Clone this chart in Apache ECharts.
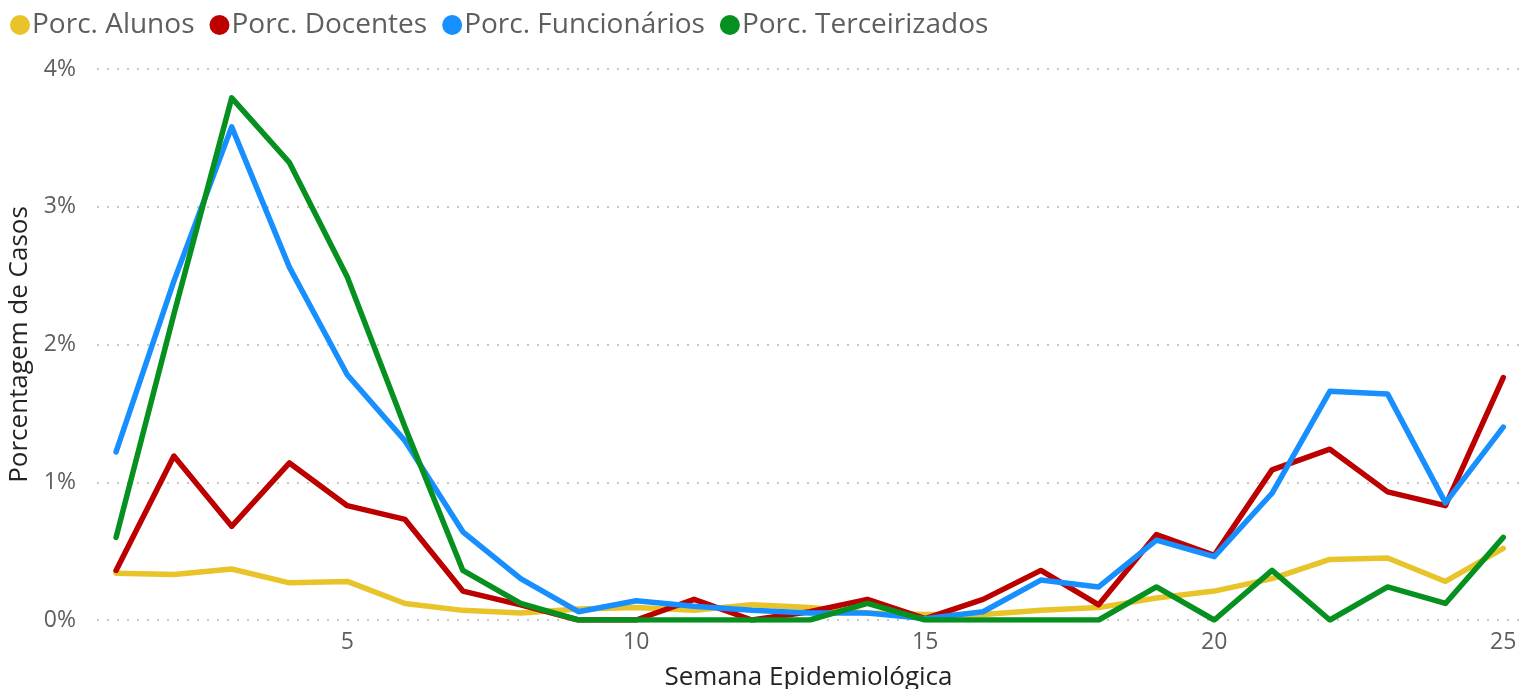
<!DOCTYPE html>
<html>
<head>
<meta charset="utf-8">
<script src="https://cdn.jsdelivr.net/npm/echarts@6/dist/echarts.min.js"></script>
<style>
  html, body { margin: 0; padding: 0; background: #fff; }
  #main { width: 1536px; height: 689px; }
</style>
</head>
<body>
<div id="main"></div>
<script>
// semanas epidemiologicas
const semanas = [1, 2, 3, 4, 5, 6, 7, 8, 9, 10, 11, 12, 13, 14, 15, 16, 17, 18, 19, 20, 21, 22, 23, 24, 25];
const seriesNames = ['Porc. Alunos', 'Porc. Docentes', 'Porc. Funcionários', 'Porc. Terceirizados'];
const xTicks = [5, 10, 15, 20, 25];

// valores em %
const alunos = [0.34, 0.33, 0.37, 0.27, 0.28, 0.12, 0.07, 0.05, 0.08, 0.09, 0.07, 0.11, 0.09, 0.05, 0.04, 0.04, 0.07, 0.09, 0.16, 0.21, 0.30, 0.44, 0.45, 0.28, 0.52];
const docentes = [0.36, 1.19, 0.68, 1.14, 0.83, 0.73, 0.21, 0.11, 0.0, 0.0, 0.15, 0.0, 0.06, 0.15, 0.01, 0.15, 0.36, 0.11, 0.62, 0.47, 1.09, 1.24, 0.93, 0.83, 1.76];
const funcionarios = [1.22, 2.46, 3.58, 2.56, 1.78, 1.30, 0.64, 0.30, 0.06, 0.14, 0.10, 0.07, 0.05, 0.05, 0.01, 0.06, 0.29, 0.24, 0.58, 0.46, 0.92, 1.66, 1.64, 0.85, 1.40];
const terceirizados = [0.60, 2.22, 3.79, 3.32, 2.49, 1.40, 0.36, 0.12, 0.0, 0.0, 0.0, 0.0, 0.0, 0.12, 0.0, 0.0, 0.0, 0.0, 0.24, 0.0, 0.36, 0.0, 0.24, 0.12, 0.60];

const colors = ['#E8C42A', '#BC0000', '#178FFF', '#06901F'];
const font = '"Open Sans", "Noto Sans", sans-serif';

const pair = arr => semanas.map((s, i) => [s, arr[i]]);

const chart = echarts.init(document.getElementById('main'));
chart.setOption({
  color: colors,
  animation: false,
  legend: {
    left: 5,
    top: 6,
    icon: 'circle',
    itemWidth: 20,
    itemHeight: 20,
    itemGap: 15,
    textStyle: { fontFamily: font, fontSize: 28, color: '#605E5C', padding: [0, 0, 0, -3] },
    data: seriesNames
  },
  grid: { left: 97, right: 16, top: 69, bottom: 69, outerBoundsMode: 'none', containLabel: false },
  xAxis: {
    type: 'value',
    min: 0.67,
    max: 25.29,
    name: 'Semana Epidemiológica',
    nameLocation: 'middle',
    nameGap: 45,
    nameTextStyle: { fontFamily: font, fontSize: 26, color: '#252423' },
    axisLine: { show: false },
    axisTick: { show: false },
    splitLine: { show: false },
    axisLabel: {
      customValues: xTicks,
      fontFamily: font, fontSize: 23, color: '#605E5C', margin: 11
    }
  },
  yAxis: {
    type: 'value',
    min: 0,
    max: 4,
    interval: 1,
    name: 'Porcentagem de Casos',
    nameLocation: 'middle',
    nameGap: 63,
    nameTextStyle: { fontFamily: font, fontSize: 26, color: '#252423' },
    axisLine: { show: false },
    axisTick: { show: false },
    axisLabel: {
      formatter: v => v + '%',
      fontFamily: font, fontSize: 23, color: '#605E5C', margin: 21
    },
    splitLine: { lineStyle: { type: [2, 8], color: '#C8C6C4', width: 2 } }
  },
  series: [
    { name: seriesNames[0], type: 'line', data: pair(alunos) },
    { name: seriesNames[1], type: 'line', data: pair(docentes) },
    { name: seriesNames[2], type: 'line', data: pair(funcionarios) },
    { name: seriesNames[3], type: 'line', data: pair(terceirizados) }
  ].map(s => Object.assign(s, {
    showSymbol: false,
    lineStyle: { width: 5.5, cap: 'round', join: 'round' }
  }))
});
</script>
</body>
</html>
